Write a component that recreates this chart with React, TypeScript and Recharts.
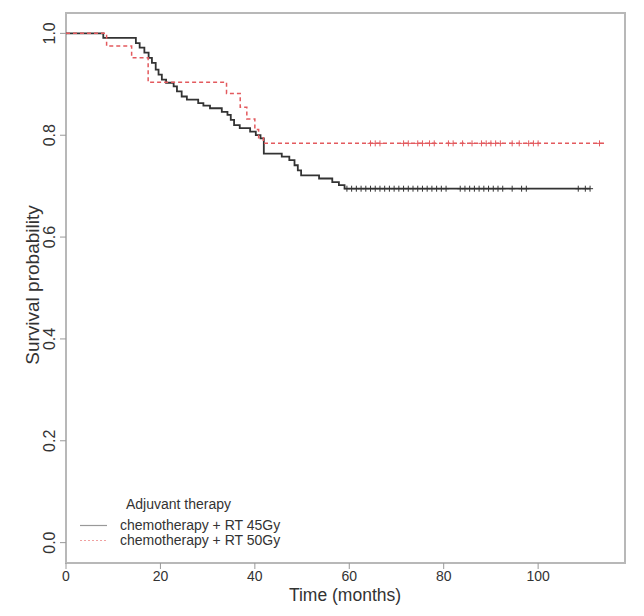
import React from 'react';
import { ComposedChart, Line, Scatter, XAxis, YAxis, ReferenceArea } from 'recharts';

// Kaplan-Meier steps (month of drop, survival after drop)
const months45 = [0, 7.9, 14.8, 15.6, 16.6, 17.5, 18.2, 19.0, 19.6, 20.3, 21.2, 22.8, 23.5, 24.5, 25.6, 28.0, 29.1, 30.5, 33.0, 34.2, 34.9, 35.6, 36.8, 39.0, 40.2, 41.2, 41.9, 45.7, 47.3, 48.4, 49.1, 49.8, 53.6, 56.4, 57.8, 59.0];
const surv45 = [1.0, 0.991, 0.981, 0.972, 0.962, 0.952, 0.942, 0.929, 0.919, 0.909, 0.903, 0.896, 0.886, 0.876, 0.87, 0.863, 0.858, 0.853, 0.846, 0.84, 0.83, 0.82, 0.814, 0.807, 0.8, 0.794, 0.764, 0.758, 0.751, 0.741, 0.731, 0.721, 0.715, 0.708, 0.702, 0.695];
const lastMonth45 = 111;
const censor45 = [59.5, 60.5, 61.5, 62.5, 63.5, 64.5, 65.5, 66.5, 67.5, 68.5, 69.5, 70.5, 71.5, 72.5, 73.5, 74.5, 75.5, 76.5, 77.5, 78.5, 79.5, 80.5, 83.5, 84.5, 85.5, 86.5, 87.5, 88.5, 89.5, 90.5, 91.5, 92.5, 94.5, 96.5, 97.5, 108.5, 110, 111];

const months50 = [0, 8.6, 13.9, 17.4, 34.0, 36.9, 38.3, 40.0, 40.8, 41.8];
const surv50 = [1.0, 0.975, 0.952, 0.904, 0.882, 0.855, 0.832, 0.811, 0.795, 0.784];
const lastMonth50 = 114;
const censor50 = [64.5, 65.5, 66.5, 71.5, 72.5, 74.5, 75.5, 77, 78, 81, 82, 84, 86, 88, 89, 90, 91, 92, 94.5, 96, 98, 99, 100, 113];

const xTicks = [0, 20, 40, 60, 80, 100];
const yTicks = [0, 0.2, 0.4, 0.6, 0.8, 1.0];
const legendTitle = 'Adjuvant therapy';
const groupNames = ['chemotherapy + RT 45Gy', 'chemotherapy + RT 50Gy'];

const xMax = 118.4;
const yMin = -0.04;
const yMax = 1.04;
const font = '"Liberation Sans", Arial, Helvetica, sans-serif';
const black = '#333333';
const red = '#e35a5e';

function toSteps(months: number[], surv: number[], last: number) {
  const pts = months.map((t, i) => ({ t, s: surv[i] }));
  pts.push({ t: last, s: surv[surv.length - 1] });
  return pts;
}

function survAt(months: number[], surv: number[], t: number) {
  let s = surv[0];
  months.forEach((m, i) => {
    if (m <= t) s = surv[i];
  });
  return s;
}

const steps45 = toSteps(months45, surv45, lastMonth45);
const steps50 = toSteps(months50, surv50, lastMonth50);
const marks45 = censor45.map((t) => ({ t, s: survAt(months45, surv45, t) }));
const marks50 = censor50.map((t) => ({ t, s: survAt(months50, surv50, t) }));

const cross = (color: string) => (props: any) => {
  const { cx, cy } = props;
  return <path d={`M${cx - 3},${cy}h6M${cx},${cy - 3}v6`} stroke={color} strokeWidth={1} fill="none" />;
};

const XTick = (props: any) => {
  const { x, y, payload } = props;
  return (
    <text x={x} y={y} dy="0.71em" textAnchor="middle" fontSize={14} fill="#333" fontFamily={font}>
      {payload.value}
    </text>
  );
};

const YTick = (props: any) => {
  const { x, y, payload } = props;
  return (
    <text transform={`translate(${x - 1}, ${y}) rotate(-90)`} textAnchor="middle" fontSize={16} fill="#333" fontFamily={font}>
      {payload.value.toFixed(1)}
    </text>
  );
};

export default function App() {
  return (
    <div style={{ position: 'absolute', left: 0, top: 0, width: 644, height: 616, background: '#fff' }}>
      <ComposedChart width={644} height={616} margin={{ top: 13, right: 19, bottom: 0, left: 0 }}>
        <XAxis
          type="number"
          dataKey="t"
          domain={[0, xMax]}
          ticks={xTicks}
          allowDataOverflow
          axisLine={false}
          tickSize={6}
          tickMargin={2}
          tickLine={{ stroke: '#999' }}
          tick={<XTick />}
          height={53}
          label={{
            content: () => (
              <text x={345} y={601} textAnchor="middle" fontSize={17.5} fill="#333" fontFamily={font}>
                Time (months)
              </text>
            ),
          }}
        />
        <YAxis
          type="number"
          dataKey="s"
          domain={[yMin, yMax]}
          ticks={yTicks}
          allowDataOverflow
          axisLine={false}
          tickSize={6}
          tickMargin={4}
          tickLine={{ stroke: '#999' }}
          tick={<YTick />}
          width={66}
          label={{
            content: () => (
              <text transform="translate(39, 285) rotate(-90)" textAnchor="middle" fontSize={19} fill="#333" fontFamily={font}>
                Survival probability
              </text>
            ),
          }}
        />
        <ReferenceArea x1={0} x2={xMax} y1={yMin} y2={yMax} fill="none" stroke="#b8b8b8" strokeWidth={2} />
        <Line data={steps45} dataKey="s" type="stepAfter" stroke={black} strokeWidth={1.8} dot={false} isAnimationActive={false} />
        <Line data={steps50} dataKey="s" type="stepAfter" stroke={red} strokeWidth={1.5} strokeDasharray="4 3" dot={false} isAnimationActive={false} />
        <Scatter data={marks45} dataKey="s" shape={cross(black)} isAnimationActive={false} />
        <Scatter data={marks50} dataKey="s" shape={cross(red)} isAnimationActive={false} />
      </ComposedChart>
      <div style={{ position: 'absolute', left: 76, top: 497, fontFamily: font, fontSize: 14, color: '#333', lineHeight: '15px' }}>
        <div style={{ paddingLeft: 50, height: 21 }}>{legendTitle}</div>
        {groupNames.map((name, i) => (
          <div key={name} style={{ display: 'flex', alignItems: 'center', height: 15 }}>
            <svg width={44} height={15}>
              <line x1={4} x2={31} y1={7.5} y2={7.5} stroke={i === 0 ? '#999' : '#f0a0a0'} strokeWidth={1.2} strokeDasharray={i === 0 ? undefined : '2 2'} />
            </svg>
            <span>{name}</span>
          </div>
        ))}
      </div>
    </div>
  );
}
